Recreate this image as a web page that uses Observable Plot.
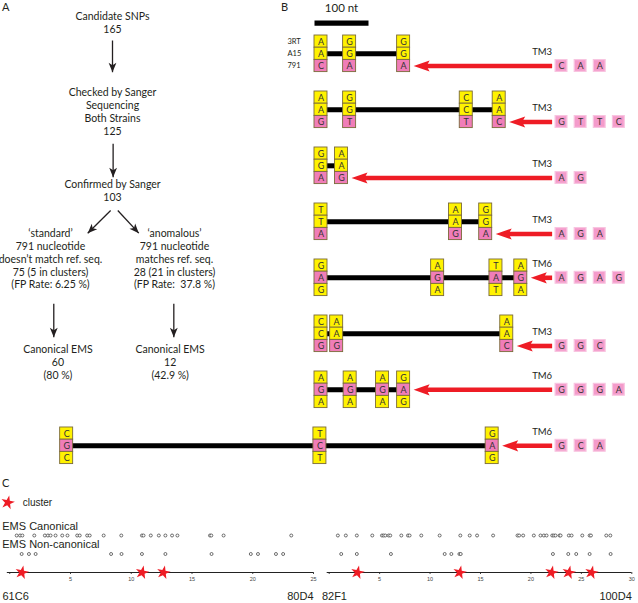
<!DOCTYPE html>
<html><head><meta charset="utf-8">
<script src="https://cdn.jsdelivr.net/npm/d3@7"></script>
<script src="https://cdn.jsdelivr.net/npm/@observablehq/plot@0.6"></script>
<style>
body{margin:0;background:#fff}
#wrap{position:relative;width:638px;height:603px;overflow:hidden;font-family:Lato,sans-serif;color:#231f20}
#wrap > svg{position:absolute;margin:0}
.plab{position:absolute;font:11px Lato,sans-serif;color:#231f20}
</style></head><body><div id="wrap"></div>
<script>
// ---------------- DATA ----------------
// Panel A: flowchart nodes (col: -1 left branch, 0 centre, 1 right branch; line: text line index)
const flowNodes = [
  {col: 0, line: 0, lines: ["Candidate SNPs", "165"]},
  {col: 0, line: 5.85, lines: ["Checked by Sanger", "Sequencing", "Both Strains", "125"]},
  {col: 0, line: 12.97, lines: ["Confirmed by Sanger", "103"]},
  {col: -1, line: 16.75, lines: ["\u2018standard\u2019", "791 nucleotide", "doesn\u2019t match ref. seq.", "75 (5 in clusters)", "(FP Rate: 6.25 %)"]},
  {col: 1, line: 16.75, lines: ["\u2018anomalous\u2019", "791 nucleotide", "matches ref. seq.", "28 (21 in clusters)", "(FP Rate:  37.8 %)"]},
  {col: -0.88, line: 25.66, lines: ["Canonical EMS", "60", "(80 %)"]},
  {col: 0.93, line: 25.66, lines: ["Canonical EMS", "12", "(42.9 %)"]}
];
const flowArrows = [
  {x1: 0, y1: 1.87, x2: 0, y2: 4.31},
  {x1: 0.01, y1: 9.82, x2: 0.01, y2: 12.38},
  {x1: -0.03, y1: 14.95, x2: -0.4, y2: 16.69},
  {x1: 0.085, y1: 14.95, x2: 0.424, y2: 16.69},
  {x1: -0.947, y1: 22.12, x2: -0.947, y2: 24.69},
  {x1: 0.989, y1: 22.12, x2: 0.989, y2: 24.69}
];

// Panel B: sequence rows (nt positions of SNP stacks, bases top/mid/bottom, marker and motif)
const strainLabels = ["3RT", "A15", "791"];
const seqRows = [
  {tm: "TM3", ref: 2, stacks: [{nt: 0, b: ["A","A","C"]}, {nt: 53, b: ["G","G","A"]}, {nt: 153, b: ["G","G","A"]}], motif: ["C","A","A"]},
  {tm: "TM3", ref: 2, stacks: [{nt: 0, b: ["A","A","G"]}, {nt: 53, b: ["G","G","T"]}, {nt: 269, b: ["C","C","T"]}, {nt: 330, b: ["A","A","C"]}], motif: ["G","T","T","C"]},
  {tm: "TM3", ref: 2, stacks: [{nt: 0, b: ["G","G","A"]}, {nt: 38, b: ["A","A","G"]}], motif: ["A","G"]},
  {tm: "TM3", ref: 2, stacks: [{nt: 0, b: ["T","T","A"]}, {nt: 249, b: ["A","A","G"]}, {nt: 305, b: ["G","G","A"]}], motif: ["A","G","A"]},
  {tm: "TM6", ref: 1, stacks: [{nt: 0, b: ["G","A","G"]}, {nt: 216, b: ["A","G","A"]}, {nt: 324, b: ["T","A","T"]}, {nt: 370, b: ["A","G","A"]}], motif: ["A","G","A","G"]},
  {tm: "TM3", ref: 2, stacks: [{nt: 0, b: ["C","C","G"]}, {nt: 29, b: ["A","A","G"]}, {nt: 344, b: ["A","A","C"]}], motif: ["G","G","C"]},
  {tm: "TM6", ref: 1, stacks: [{nt: 0, b: ["A","G","A"]}, {nt: 54, b: ["A","G","A"]}, {nt: 114, b: ["A","G","A"]}, {nt: 153, b: ["G","A","G"]}], motif: ["G","G","G","A"]},
  {tm: "TM6", ref: 1, stacks: [{nt: -471, b: ["C","G","C"]}, {nt: -2, b: ["T","C","T"]}, {nt: 317, b: ["G","A","G"]}], motif: ["G","C","A"]}
];
const scaleBar = {nt: 100, label: "100 nt"};

// Panel C: SNP positions (Mb) on two chromosome arm segments
const regions = [
  {start: "61C6", end: "80D4", max: 25,
   canonical: [0.57,0.85,1.04,2.02,2.89,3.14,3.36,3.77,4.32,4.75,5.55,5.76,6.37,6.58,7.73,9.18,10.88,11.01,11.61,12.27,12.81,13.36,13.8,16.48,16.59,17.6,23.17],
   noncanonical: [0.98,1.58,2.13,8.34,9.2,10.88,12.81,16.61,19.84,20.43,21.91,22.5],
   clusters: [1.0,10.9,12.65]},
  {start: "82F1", end: "100D4", max: 30,
   canonical: [0.86,1.65,2.74,4.27,5.23,5.39,5.56,5.89,6.05,7.15,7.81,7.97,9.13,10.95,13.0,13.93,14.66,16.25,18.67,18.83,19.23,20.29,20.95,21.28,21.55,22.11,22.27,22.44,22.84,22.94,23.76,24.03,25.09,25.82,25.95,27.47,27.87],
   noncanonical: [1.19,2.74,6.12,11.45,12.11,12.91,13.04,22.18,23.7,24.49,25.82,27.9],
   clusters: [2.81,12.94,22.04,23.76,26.01]}
];
const rowLabels = ["EMS Canonical", "EMS Non-canonical"];

// ---------------- STYLE ----------------
const INK = "#231f20", YELLOW = "#FFF200", PINK = "#F07DB8", BOX_STROKE = "#7a6a3a",
      MOTIF_FILL = "#F49BCB", MOTIF_STROKE = "#F8C4E0", RED = "#EE1C25";
const transparent = {background: "transparent", overflow: "visible", fontFamily: "Lato, sans-serif"};
const wrap = document.getElementById("wrap");
function place(el, left, top) { el.style.left = left + "px"; el.style.top = top + "px"; wrap.appendChild(el); }

// ---------------- PANEL A ----------------
const ax = {domain: [-1, 1], range: [50, 174]}, ay = {domain: [0, 1], range: [15.7, 28.7]};
const sx = d3.scaleLinear(ax.domain, ax.range), sy = d3.scaleLinear(ay.domain, ay.range);
const flowText = flowNodes.flatMap(n => n.lines.map((t, i) => ({x: n.col, y: n.line + i * (n.lines.length === 5 ? 0.98 : 1), t})));
const stealth = {draw(c) { c.moveTo(0, 0); c.lineTo(-3.9, -9.5); c.lineTo(0, -7); c.lineTo(3.9, -9.5); c.closePath(); }};
const arrowAngle = d => Math.atan2(sy(d.y2) - sy(d.y1), sx(d.x2) - sx(d.x1)) * 180 / Math.PI - 90;
const plotA = Plot.plot({
  width: 240, height: 400, margin: 0,
  x: {...ax, axis: null}, y: {...ay, axis: null},
  style: transparent,
  marks: [
    Plot.link(flowArrows, {x1: "x1", y1: "y1", x2: "x2", y2: "y2", stroke: INK, strokeWidth: 1.3}),
    Plot.dot(flowArrows, {x: "x2", y: "y2", symbol: stealth, r: 5, fill: INK, stroke: "none", rotate: arrowAngle}),
    Plot.text(flowText, {x: "x", y: "y", text: "t", fontSize: 10.5, fill: INK})
  ]
});
place(plotA, 0, 0);

// ---------------- PANEL B ----------------
const PITCH = 4.59, BOX_HALF = 6.5, TIP_GAP = 18.5, HEAD_NT = 22, TAIL_NT = 428, MOTIF_START = 445.4, MOTIF_STEP = 35.4;
const stackData = seqRows.flatMap((r, ri) => r.stacks.flatMap(s => s.b.map((letter, sub) => ({nt: s.nt, u: ri * PITCH + sub, letter, pink: sub === r.ref}))));
const lineData = seqRows.map((r, ri) => ({a: r.stacks[0].nt, b: r.stacks[r.stacks.length - 1].nt, u: ri * PITCH + 1}));
const arrowData = seqRows.map((r, ri) => ({tip: r.stacks[r.stacks.length - 1].nt + TIP_GAP, u: ri * PITCH + r.ref, tm: r.tm}));
const motifData = seqRows.flatMap((r, ri) => r.motif.map((m, i) => ({nt: MOTIF_START + i * MOTIF_STEP, u: ri * PITCH + r.ref, letter: m})));
const leftHead = {draw(c) { c.moveTo(0, 0); c.lineTo(16, -5.6); c.lineTo(13, 0); c.lineTo(16, 5.6); c.closePath(); }};
const plotB = Plot.plot({
  width: 638, height: 470, margin: 0,
  x: {domain: [0, 100], range: [320.5, 374.5], axis: null},
  y: {domain: [0, 1], range: [41.1, 53.3], axis: null},
  style: transparent,
  marks: [
    Plot.link([scaleBar], {x1: () => 0, x2: d => d.nt, y1: () => -1.51, y2: () => -1.51, dx: -BOX_HALF, stroke: "#000", strokeWidth: 5.2}),
    Plot.text([scaleBar], {x: d => d.nt / 2, y: () => -2.75, dx: -BOX_HALF, text: "label", fontSize: 11.5, fill: INK}),
    Plot.text(strainLabels, {x: () => 0, y: (d, i) => i, text: d => d, textAnchor: "start", dx: -33.5, fontSize: 7.5, fill: INK}),
    Plot.link(lineData, {x1: "a", x2: "b", y1: "u", y2: "u", stroke: "#000", strokeWidth: 5}),
    Plot.link(arrowData, {x1: d => d.tip + HEAD_NT - 2, x2: () => TAIL_NT, y1: "u", y2: "u", stroke: RED, strokeWidth: 4.6}),
    Plot.dot(arrowData, {x: "tip", y: "u", symbol: leftHead, r: 5, fill: RED, stroke: "none"}),
    Plot.text(arrowData, {x: () => TAIL_NT, y: d => d.u - 1.15, text: "tm", textAnchor: "end", fontSize: 9.5, fill: INK}),
    Plot.rect(stackData, {x1: "nt", x2: "nt", y1: "u", y2: "u", insetLeft: -BOX_HALF, insetRight: -BOX_HALF, insetTop: -6.1, insetBottom: -6.1,
      fill: d => d.pink ? PINK : YELLOW, stroke: BOX_STROKE, strokeWidth: 0.9}),
    Plot.text(stackData, {x: "nt", y: "u", text: "letter", fontSize: 9, fill: "#333", dy: 0.5}),
    Plot.rect(motifData, {x1: "nt", x2: "nt", y1: "u", y2: "u", insetLeft: -5.9, insetRight: -5.9, insetTop: -5.9, insetBottom: -5.9,
      fill: MOTIF_FILL, stroke: MOTIF_STROKE, strokeWidth: 1.2}),
    Plot.text(motifData, {x: "nt", y: "u", text: "letter", fontSize: 9, fill: "#333", dy: 0.5})
  ]
});
place(plotB, 0, 0);

// ---------------- PANEL C ----------------
const cLayout = [{left: 0, mL: 9.25, mR: 7}, {left: 318, mL: 10.7, mR: 6.7}];
const ARIAL = "Liberation Sans, Arial, sans-serif";
regions.forEach((reg, k) => {
  const L = cLayout[k];
  const ticks = d3.range(0, reg.max + 1, 5);
  const marks = [
    Plot.ruleY([2], {x1: () => -0.2, x2: () => reg.max, stroke: "#222", strokeWidth: 1}),
    Plot.dot(reg.canonical, {x: d => d, y: () => 0, r: 1.5, stroke: "#333", strokeWidth: 0.7, fill: "white"}),
    Plot.dot(reg.noncanonical, {x: d => d, y: () => 1, r: 1.5, stroke: "#333", strokeWidth: 0.7, fill: "white"}),
    Plot.dot(reg.clusters, {x: d => d, y: () => 2, symbol: "star", r: 4.3, fill: RED, stroke: "none", rotate: 12}),
    Plot.text([reg.start], {x: () => 0, y: () => 3.3, text: d => d, textAnchor: "start", dx: -7.3, fontSize: 11, fontFamily: ARIAL, fill: INK}),
    Plot.text([reg.end], {x: () => reg.max, y: () => 3.3, text: d => d, textAnchor: "end", dx: 0, fontSize: 11, fontFamily: ARIAL, fill: INK})
  ];
  if (k === 0) {
    marks.push(
      Plot.text(rowLabels, {x: () => 0, y: (d, i) => i - 0.5, text: d => d, textAnchor: "start", dx: -7.5, fontSize: 11, fontFamily: ARIAL, fill: INK}),
      Plot.dot(["cluster"], {x: () => 0, y: () => -1.78, symbol: "star", r: 4.3, fill: RED, stroke: "none", rotate: 12, dx: -2}),
      Plot.text(["cluster"], {x: () => 0, y: () => -1.78, text: d => d, textAnchor: "start", dx: 13, fontSize: 10, fill: INK})
    );
  }
  const p = Plot.plot({
    width: 320, height: 128, marginLeft: L.mL, marginRight: L.mR, marginTop: 0, marginBottom: 31,
    x: {domain: [0, reg.max], ticks, tickFormat: d => d === 0 ? "" : d, tickSize: 2, tickPadding: 2.5, label: null},
    y: {domain: [0, 1], range: [60, 78.5], axis: null},
    style: {...transparent, fontSize: "5.5px", fontFamily: ARIAL, color: "#444"},
    marks
  });
  place(p, L.left, 475);
});

// panel letters
[["A", 2, 0], ["B", 281, 0], ["C", 2, 476]].forEach(([t, l, tp]) => {
  const s = document.createElement("div"); s.className = "plab"; s.textContent = t;
  s.style.left = l + "px"; s.style.top = tp + "px"; wrap.appendChild(s);
});
</script>
</body></html>
